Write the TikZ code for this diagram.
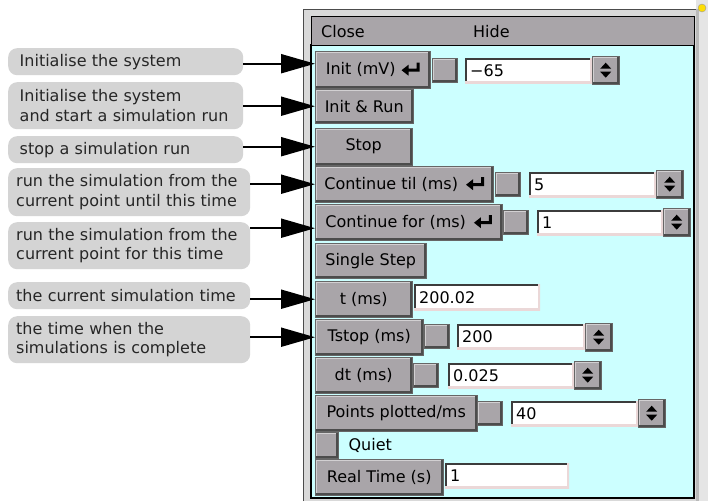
\documentclass[tikz,border=0pt]{standalone}
\usepackage{fontspec}
\setmainfont{DejaVu Sans}
\usepackage{tikz}
\usetikzlibrary{shapes,arrows.meta,positioning}
\definecolor{panelcyan}{HTML}{CCFFFF}
\definecolor{btngray}{HTML}{A9A5A9}
\definecolor{notegray}{HTML}{D4D4D4}
\definecolor{framegray}{HTML}{D9D9D9}
\definecolor{hilite}{HTML}{D2D0D2}
\definecolor{darkedge}{HTML}{4C4C4C}
\definecolor{fldshadow}{HTML}{3C3C3C}
\definecolor{fldlight}{HTML}{EBD8D8}
\newcommand{\bevel}{%
  \draw[hilite, line width=4pt] (path picture bounding box.south west) -- (path picture bounding box.north west) -- (path picture bounding box.north east);
  \draw[darkedge, line width=5pt] (path picture bounding box.south west) -- (path picture bounding box.south east) -- (path picture bounding box.north east);}
\newcommand{\retkey}{\tikz[baseline=-1pt, x=1pt, y=1pt] \fill[black] (0,3.5) -- (7,9) -- (7,5) -- (15,5) -- (15,11) -- (18,11) -- (18,2) -- (7,2) -- (7,-2) -- cycle;}
\tikzstyle{note} = [rectangle, rounded corners=9pt, fill=notegray, text=black!85, anchor=north west, align=left, inner ysep=0pt, inner xsep=8pt]
\tikzstyle{btn} = [rectangle, draw=black!60, fill=btngray, anchor=north west, inner sep=0pt, path picture={\bevel}]
\tikzstyle{chk} = [btn, minimum width=25pt, minimum height=24pt]
\tikzstyle{spin} = [btn, minimum width=27pt, minimum height=28pt, path picture={\bevel
  \fill[black] ([yshift=1.5pt]path picture bounding box.center) -- ++(-5.5pt,0pt) -- ++(5.5pt,6pt) -- ++(5.5pt,-6pt) -- cycle;
  \fill[black] ([yshift=-1.5pt]path picture bounding box.center) -- ++(-5.5pt,0pt) -- ++(5.5pt,-6pt) -- ++(5.5pt,6pt) -- cycle;}]
\tikzstyle{fld} = [rectangle, fill=white, anchor=north west, align=left, inner xsep=5pt, inner ysep=0pt, minimum height=25pt, path picture={
  \draw[fldshadow, line width=4pt] (path picture bounding box.south west) -- (path picture bounding box.north west) -- (path picture bounding box.north east);
  \draw[fldlight, line width=4pt] (path picture bounding box.south west) -- (path picture bounding box.south east) -- (path picture bounding box.north east);}]
\tikzstyle{lbl} = [inner sep=0pt, anchor=west]
\tikzstyle{line} = [draw, line width=2pt, -{Triangle[length=34pt,width=19pt]}]

\begin{document}
\begin{tikzpicture}[x=1pt, y=1pt, font=\fontsize{16}{19.5}\selectfont]
\useasboundingbox (0,0) rectangle (708,-501);
\fill[white] (0,0) rectangle (708,-501);
\fill[black!10] (696,0) rectangle (708,-501);
\fill[black!27] (696,-9) rectangle (699,-501);
\fill[framegray] (303,-9) rectangle (696,-501);
\draw[black!70] (303.5,-501) -- (303.5,-9.5) -- (696,-9.5);
\draw[black!40, fill=yellow!80!orange] (702,-8) circle (4);
\draw[black, line width=1.5pt, fill=panelcyan] (311,-45) rectangle (694,-498);
\node [rectangle, draw=black, line width=1.2pt, fill=btngray, anchor=north west, minimum width=383pt, minimum height=29pt] (title-bar) at (311,-16) {};
\node [lbl] (close-lbl) at ([xshift=10pt]title-bar.west) {Close};
\node [lbl] (hide-lbl) at ([xshift=162pt]title-bar.west) {Hide};

\node [btn, minimum width=115pt, minimum height=37pt] (init-btn) at (315,-51) {Init (mV)\hspace{6pt}\retkey};
\node [chk] (init-chk) at (432,-58) {};
\node [fld, text width=117pt] (init-fld) at (465,-58) {−65};
\node [spin] (init-spin) at (592,-56) {};
\node [btn, minimum width=98pt, minimum height=34pt] (initrun-btn) at (315,-89) {Init \& Run};
\node [btn, minimum width=97pt, minimum height=37pt] (stop-btn) at (315,-128) {Stop};
\node [btn, minimum width=178pt, minimum height=36pt] (ctil-btn) at (315,-166) {Continue til (ms)\hspace{8pt}\retkey};
\node [chk] (ctil-chk) at (495,-172) {};
\node [fld, text width=117pt] (ctil-fld) at (529,-172) {5};
\node [spin] (ctil-spin) at (656,-170) {};
\node [btn, minimum width=187pt, minimum height=36pt] (cfor-btn) at (315,-204) {Continue for (ms)\hspace{8pt}\retkey};
\node [chk] (cfor-chk) at (503,-210) {};
\node [fld, text width=116pt] (cfor-fld) at (537,-210) {1};
\node [spin] (cfor-spin) at (663,-208) {};
\node [btn, minimum width=111pt, minimum height=35pt] (step-btn) at (315,-243) {Single Step};
\node [btn, minimum width=97pt, minimum height=36pt] (t-btn) at (315,-281) {t (ms)};
\node [fld, text width=116pt, minimum height=26pt] (t-fld) at (414,-284) {200.02};
\node [btn, minimum width=108pt, minimum height=36pt] (tstop-btn) at (315,-319) {Tstop (ms)};
\node [chk] (tstop-chk) at (424,-324) {};
\node [fld, text width=118pt] (tstop-fld) at (457,-324) {200};
\node [spin] (tstop-spin) at (585,-323) {};
\node [btn, minimum width=97pt, minimum height=36pt] (dt-btn) at (315,-357) {dt (ms)};
\node [chk] (dt-chk) at (413,-363) {};
\node [fld, text width=116pt] (dt-fld) at (448,-363) {0.025};
\node [spin] (dt-spin) at (574,-361) {};
\node [btn, minimum width=162pt, minimum height=36pt] (pts-btn) at (315,-395) {Points plotted/ms};
\node [chk] (pts-chk) at (477,-401) {};
\node [fld, text width=117pt] (pts-fld) at (511,-401) {40};
\node [spin] (pts-spin) at (638,-399) {};
\node [chk, minimum width=23pt, minimum height=26pt] (quiet-chk) at (315,-432) {};
\node [lbl, right=10pt of quiet-chk] (quiet-lbl) {Quiet};
\node [btn, minimum width=128pt, minimum height=36pt] (real-btn) at (315,-459) {Real Time (s)};
\node [fld, text width=114pt] (real-fld) at (445,-463) {1};

\node [note, inner xsep=11.5pt, text width=212pt, minimum height=27pt] (init-note) at (8,-48) {Initialise the system};
\node [note, inner xsep=11.5pt, text width=212pt, minimum height=47pt] (initrun-note) at (8,-82) {Initialise the system\\and start a simulation run};
\node [note, inner xsep=11.5pt, text width=212pt, minimum height=27pt] (stop-note) at (8,-136) {stop a simulation run};
\node [note, text width=226pt, minimum height=48pt] (ctil-note) at (8,-168) {run the simulation from the\\current point until this time};
\node [note, text width=226pt, minimum height=47pt] (cfor-note) at (8,-222) {run the simulation from the\\current point for this time};
\node [note, text width=226pt, minimum height=27pt] (t-note) at (8,-282) {the current simulation time};
\node [note, text width=226pt, minimum height=47pt] (tstop-note) at (8,-316) {the time when the\\simulations is complete};

\coordinate (init-tip) at ([yshift=6pt]init-btn.west);
\coordinate (cfor-tip) at ([yshift=-6pt]cfor-btn.west);
\path [line] (init-note.east |- init-tip) -- (init-tip);
\path [line] (initrun-note.east |- initrun-btn.west) -- (initrun-btn.west);
\path [line] (stop-note.east |- stop-btn.west) -- (stop-btn.west);
\path [line] (ctil-note.east |- ctil-btn.west) -- (ctil-btn.west);
\path [line] (cfor-note.east |- cfor-tip) -- (cfor-tip);
\path [line] (t-note.east |- t-btn.west) -- (t-btn.west);
\path [line] (tstop-note.east |- tstop-btn.west) -- (tstop-btn.west);
\end{tikzpicture}
\end{document}
